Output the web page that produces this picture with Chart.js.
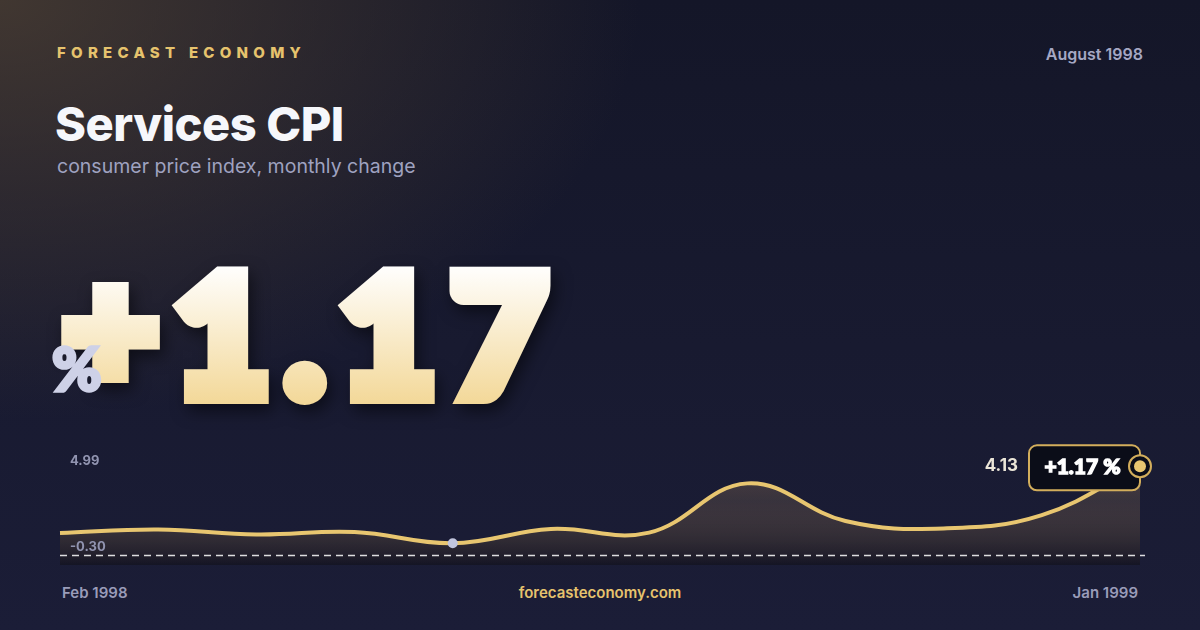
<!DOCTYPE html>
<html>
<head>
<meta charset="utf-8">
<script src="https://cdn.jsdelivr.net/npm/chart.js@4.4.1/dist/chart.umd.min.js"></script>
<style>
  html, body {
    margin: 0;
    padding: 0;
  }
  body {
    width: 1200px;
    height: 630px;
    overflow: hidden;
    position: relative;
    font-family: Inter, "Noto Sans", sans-serif;
    background:
      radial-gradient(ellipse 640px 420px at 0px 0px, rgba(80, 66, 52, 0.75), rgba(80, 66, 52, 0) 100%),
      linear-gradient(180deg, #141628 0%, #181a30 55%, #1b1d37 100%);
  }
  .abs {
    position: absolute;
    white-space: nowrap;
  }
  #brand {
    left: 57px;
    top: 43px;
    font-size: 15px;
    font-weight: 800;
    letter-spacing: 0.35em;
    color: #e6c36d;
  }
  #date {
    right: 57px;
    top: 44px;
    font-size: 16px;
    font-weight: 600;
    color: #a5a7c3;
  }
  #title {
    left: 55px;
    top: 96px;
    font-size: 47px;
    font-weight: 800;
    letter-spacing: -0.01em;
    line-height: 56px;
    color: #f6f7fb;
  }
  #subtitle {
    left: 57px;
    top: 154px;
    font-size: 19.5px;
    font-weight: 400;
    color: #9fa2c0;
  }
  #bigSvg {
    left: 0;
    top: 0;
    filter: drop-shadow(4px 7px 8px rgba(0, 0, 0, 0.5));
  }
  #bigSvg text {
    font-family: Lato, sans-serif;
    font-weight: 900;
  }
  #pct {
    left: 52px;
    top: 338px;
    font-family: Lato, sans-serif;
    font-size: 60px;
    font-weight: 900;
    line-height: 1;
    color: #ced1e7;
    -webkit-text-stroke: 3.5px #ced1e7;
  }
  #chartBox {
    left: 40px;
    top: 430px;
    width: 1120px;
    height: 145px;
  }
  .foot {
    top: 583px;
    font-size: 15px;
    font-weight: 600;
    color: #9a9cb9;
  }
  #footL { left: 62px; }
  #footR { right: 62px; }
  #footC {
    left: 0;
    width: 1200px;
    text-align: center;
    color: #e6c36d;
  }
</style>
</head>
<body>
  <div class="abs" id="brand">FORECAST ECONOMY</div>
  <div class="abs" id="date">August 1998</div>
  <div class="abs" id="title">Services CPI</div>
  <div class="abs" id="subtitle">consumer price index, monthly change</div>
  <svg class="abs" id="bigSvg" width="640" height="440">
    <defs>
      <linearGradient id="numGrad" gradientUnits="userSpaceOnUse" x1="0" y1="264" x2="0" y2="404">
        <stop offset="0" stop-color="#ffffff"/>
        <stop offset="1" stop-color="#f3d898"/>
      </linearGradient>
    </defs>
    <text x="63" y="395" font-size="164" letter-spacing="16"
      fill="url(#numGrad)" stroke="url(#numGrad)" stroke-width="18" stroke-linejoin="miter"><tspan id="bigSign" dy="-7"></tspan><tspan id="bigDigits" dy="7"></tspan></text>
  </svg>
  <div class="abs" id="pct">%</div>
  <div class="abs" id="chartBox"><canvas id="cpiChart" width="1120" height="145"></canvas></div>
  <div class="abs foot" id="footL"></div>
  <div class="abs foot" id="footC">forecasteconomy.com</div>
  <div class="abs foot" id="footR"></div>

<script>
const months = [
  "Feb 1998", "Mar 1998", "Apr 1998", "May 1998", "Jun 1998", "Jul 1998",
  "Aug 1998", "Sep 1998", "Oct 1998", "Nov 1998", "Dec 1998", "Jan 1999",
];
const cpiValues = [0.81, 0.99, 0.74, 0.86, 0.30, 1.01, 0.83, 3.28, 1.41, 1.04, 1.70, 4.13];
const yTop = 4.99;
const yBottom = -0.78;
const baseline = -0.30;
const headline = "+1.17";
const latestChange = "+1.17 %";

const GOLD = "#e8c670";

document.getElementById("bigSign").textContent = headline.slice(0, 1);
document.getElementById("bigDigits").textContent = headline.slice(1);
document.getElementById("footL").textContent = months[0];
document.getElementById("footR").textContent = months[months.length - 1];

const minIndex = cpiValues.indexOf(Math.min(...cpiValues));

function fillGradient(context) {
  const area = context.chart.chartArea;
  if (!area) return "rgba(232, 198, 112, 0.1)";
  const g = context.chart.ctx.createLinearGradient(0, area.top, 0, area.bottom);
  g.addColorStop(0, "rgba(232, 186, 108, 0.28)");
  g.addColorStop(0.45, "rgba(210, 166, 106, 0.17)");
  g.addColorStop(1, "rgba(14, 12, 16, 0.45)");
  return g;
}

// dashed baseline, range labels, end marker and badge
const overlayPlugin = {
  id: "overlay",
  afterDatasetsDraw(chart) {
    const { ctx, chartArea } = chart;
    const y = chart.scales.y;
    const pts = chart.getDatasetMeta(0).data;
    const last = pts[pts.length - 1];

    ctx.save();

    const by = Math.round(y.getPixelForValue(baseline)) + 0.5;
    ctx.strokeStyle = "rgba(255, 255, 255, 0.85)";
    ctx.lineWidth = 1.5;
    ctx.setLineDash([7, 5]);
    ctx.beginPath();
    ctx.moveTo(chartArea.left, by);
    ctx.lineTo(chartArea.right + 5, by);
    ctx.stroke();
    ctx.setLineDash([]);

    ctx.font = "700 13px Inter";
    ctx.fillStyle = "#9194b0";
    ctx.textAlign = "left";
    ctx.textBaseline = "middle";
    ctx.fillText(yTop.toFixed(2), chartArea.left + 10, y.getPixelForValue(yTop) + 12);
    ctx.fillText(baseline.toFixed(2), chartArea.left + 10, by - 8);

    // badge
    const bw = 111, bh = 45;
    const bx = last.x - bw;
    const bTop = last.y - 21;
    ctx.beginPath();
    ctx.roundRect(bx, bTop, bw, bh, 8);
    ctx.fillStyle = "#0b0d18";
    ctx.fill();
    ctx.strokeStyle = "#d3ae5c";
    ctx.lineWidth = 2;
    ctx.stroke();

    ctx.font = "900 21px Lato";
    ctx.fillStyle = "#ffffff";
    ctx.strokeStyle = "#ffffff";
    ctx.lineWidth = 1.4;
    ctx.lineJoin = "miter";
    ctx.textAlign = "center";
    ctx.strokeText(latestChange, bx + bw / 2 - 2, last.y + 1);
    ctx.fillText(latestChange, bx + bw / 2 - 2, last.y + 1);

    ctx.font = "700 17px Inter";
    ctx.fillStyle = "#ebe6d8";
    ctx.textAlign = "right";
    ctx.fillText(cpiValues[cpiValues.length - 1].toFixed(2), bx - 11, last.y);

    // end marker
    ctx.beginPath();
    ctx.arc(last.x, last.y, 11, 0, Math.PI * 2);
    ctx.fillStyle = "#0b0d18";
    ctx.fill();
    ctx.strokeStyle = "#d3ae5c";
    ctx.lineWidth = 2;
    ctx.stroke();
    ctx.beginPath();
    ctx.arc(last.x, last.y, 6, 0, Math.PI * 2);
    ctx.fillStyle = GOLD;
    ctx.fill();

    ctx.restore();
  },
};

new Chart(document.getElementById("cpiChart"), {
  type: "line",
  data: {
    labels: months,
    datasets: [
      {
        data: cpiValues,
        borderColor: GOLD,
        borderWidth: 4,
        tension: 0.4,
        fill: "start",
        backgroundColor: fillGradient,
        clip: false,
        pointRadius: (c) => (c.dataIndex === minIndex ? 5 : 0),
        pointBackgroundColor: "#c2c6de",
        pointBorderWidth: 0,
      },
    ],
  },
  options: {
    responsive: false,
    animation: false,
    layout: {
      padding: { left: 20, right: 20, top: 19, bottom: 10 },
    },
    plugins: {
      legend: { display: false },
      tooltip: { enabled: false },
    },
    scales: {
      x: { display: false },
      y: { display: false, min: yBottom, max: yTop },
    },
  },
  plugins: [overlayPlugin],
});
</script>
</body>
</html>
